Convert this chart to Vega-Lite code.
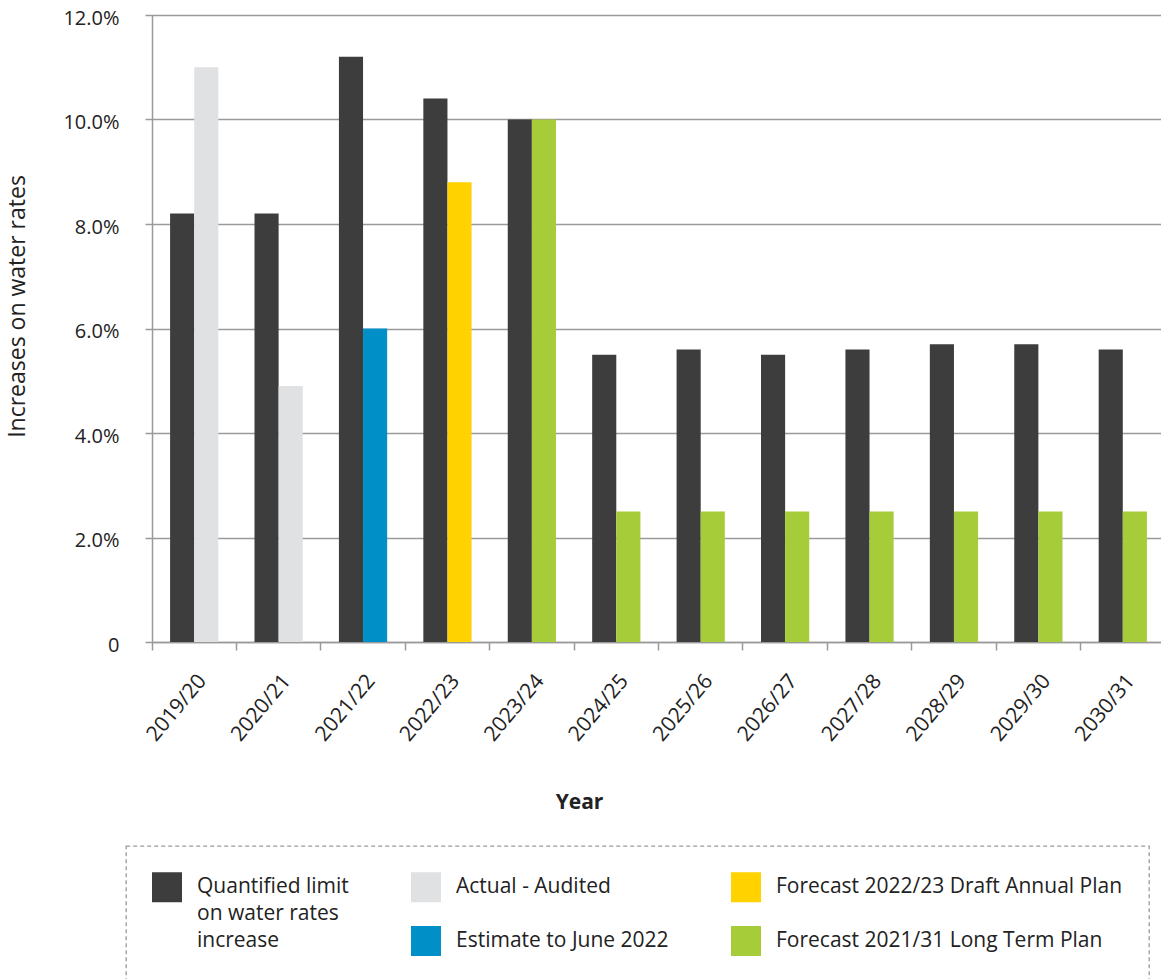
{
  "$schema": "https://vega.github.io/schema/vega-lite/v6.json",
  "width": 1009,
  "height": 627,
  "autosize": {"type": "none"},
  "padding": {"left": 152, "top": 15, "right": 0, "bottom": 337},
  "background": "white",
  "config": {
    "font": "Open Sans",
    "view": {"stroke": null},
    "axis": {
      "labelFont": "Open Sans",
      "labelFontSize": 20,
      "labelColor": "#222222",
      "titleFont": "Open Sans",
      "titleFontSize": 21,
      "titleColor": "#222222",
      "domainColor": "#9a9a9a",
      "domainWidth": 1.5,
      "tickColor": "#9a9a9a",
      "tickWidth": 1.5,
      "gridColor": "#9a9a9a",
      "gridWidth": 1.3
    },
    "legend": {
      "strokeColor": "#9a9a9a",
      "strokeDash": [4, 3],
      "strokeWidth": 1.3
    }
  },
  "data": {
    "values": [
      {"year": "2019/20", "kind": "Limit", "series": "Quantified limit on water rates increase", "rate": 8.2},
      {"year": "2019/20", "kind": "Outcome", "series": "Actual - Audited", "rate": 11.0},
      {"year": "2020/21", "kind": "Limit", "series": "Quantified limit on water rates increase", "rate": 8.2},
      {"year": "2020/21", "kind": "Outcome", "series": "Actual - Audited", "rate": 4.9},
      {"year": "2021/22", "kind": "Limit", "series": "Quantified limit on water rates increase", "rate": 11.2},
      {"year": "2021/22", "kind": "Outcome", "series": "Estimate to June 2022", "rate": 6.0},
      {"year": "2022/23", "kind": "Limit", "series": "Quantified limit on water rates increase", "rate": 10.4},
      {"year": "2022/23", "kind": "Outcome", "series": "Forecast 2022/23 Draft Annual Plan", "rate": 8.8},
      {"year": "2023/24", "kind": "Limit", "series": "Quantified limit on water rates increase", "rate": 10.0},
      {"year": "2023/24", "kind": "Outcome", "series": "Forecast 2021/31 Long Term Plan", "rate": 10.0},
      {"year": "2024/25", "kind": "Limit", "series": "Quantified limit on water rates increase", "rate": 5.5},
      {"year": "2024/25", "kind": "Outcome", "series": "Forecast 2021/31 Long Term Plan", "rate": 2.5},
      {"year": "2025/26", "kind": "Limit", "series": "Quantified limit on water rates increase", "rate": 5.6},
      {"year": "2025/26", "kind": "Outcome", "series": "Forecast 2021/31 Long Term Plan", "rate": 2.5},
      {"year": "2026/27", "kind": "Limit", "series": "Quantified limit on water rates increase", "rate": 5.5},
      {"year": "2026/27", "kind": "Outcome", "series": "Forecast 2021/31 Long Term Plan", "rate": 2.5},
      {"year": "2027/28", "kind": "Limit", "series": "Quantified limit on water rates increase", "rate": 5.6},
      {"year": "2027/28", "kind": "Outcome", "series": "Forecast 2021/31 Long Term Plan", "rate": 2.5},
      {"year": "2028/29", "kind": "Limit", "series": "Quantified limit on water rates increase", "rate": 5.7},
      {"year": "2028/29", "kind": "Outcome", "series": "Forecast 2021/31 Long Term Plan", "rate": 2.5},
      {"year": "2029/30", "kind": "Limit", "series": "Quantified limit on water rates increase", "rate": 5.7},
      {"year": "2029/30", "kind": "Outcome", "series": "Forecast 2021/31 Long Term Plan", "rate": 2.5},
      {"year": "2030/31", "kind": "Limit", "series": "Quantified limit on water rates increase", "rate": 5.6},
      {"year": "2030/31", "kind": "Outcome", "series": "Forecast 2021/31 Long Term Plan", "rate": 2.5}
    ]
  },
  "mark": {"type": "bar"},
  "encoding": {
    "x": {
      "field": "year",
      "type": "nominal",
      "sort": null,
      "scale": {"paddingInner": 0, "paddingOuter": 0, "range": [0, 1013]},
      "axis": {
        "title": "Year",
        "titleFontWeight": "bold",
        "titleX": 427,
        "titleY": 160,
        "titleBaseline": "middle",
        "labelAngle": -50,
        "labelAlign": "right",
        "labelBaseline": "top",
        "labelFontSize": 21,
        "labelPadding": 20,
        "bandPosition": 1,
        "tickExtra": true,
        "tickSize": 8,
        "grid": false
      }
    },
    "xOffset": {
      "field": "kind",
      "type": "nominal",
      "sort": ["Limit", "Outcome"],
      "scale": {"paddingInner": 0, "paddingOuter": 0.75}
    },
    "y": {
      "field": "rate",
      "type": "quantitative",
      "scale": {"domain": [0, 12], "nice": false},
      "axis": {
        "title": "Increases on water rates",
        "titleFontWeight": "normal",
        "titleFontSize": 23,
        "titleX": -135,
        "titleY": 291,
        "titleBaseline": "middle",
        "titleAlign": "center",
        "values": [0, 2, 4, 6, 8, 10, 12],
        "labelExpr": "datum.value == 0 ? '0' : format(datum.value / 100, '.1%')",
        "labelPadding": 26,
        "labelOffset": 3,
        "tickSize": 7,
        "grid": true
      }
    },
    "color": {
      "field": "series",
      "type": "nominal",
      "scale": {
        "domain": [
          "Quantified limit on water rates increase",
          "Actual - Audited",
          "Forecast 2022/23 Draft Annual Plan",
          " ",
          "Estimate to June 2022",
          "Forecast 2021/31 Long Term Plan"
        ],
        "range": ["#3d3d3d", "#e0e1e3", "#ffd200", "transparent", "#0090c7", "#a6cd39"]
      },
      "legend": {
        "title": null,
        "orient": "none",
        "legendX": -26,
        "legendY": 831,
        "direction": "horizontal",
        "columns": 3,
        "gridAlign": "each",
        "symbolType": "square",
        "symbolSize": 900,
        "symbolStrokeWidth": 0,
        "symbolOpacity": 1,
        "labelFont": "Open Sans",
        "labelFontSize": 21,
        "labelColor": "#222222",
        "labelLimit": 600,
        "labelOffset": 15,
        "labelBaseline": "top",
        "columnPadding": 62,
        "rowPadding": 2,
        "padding": 26,
        "labelExpr": "datum.label == 'Quantified limit on water rates increase' ? ['Quantified limit', 'on water rates'] : datum.label == ' ' ? ['increase', ''] : [datum.label, '']",
        "encode": {
          "labels": {"update": {"dy": {"value": -11}, "lineHeight": {"value": 26.5}}}
        }
      }
    }
  }
}
